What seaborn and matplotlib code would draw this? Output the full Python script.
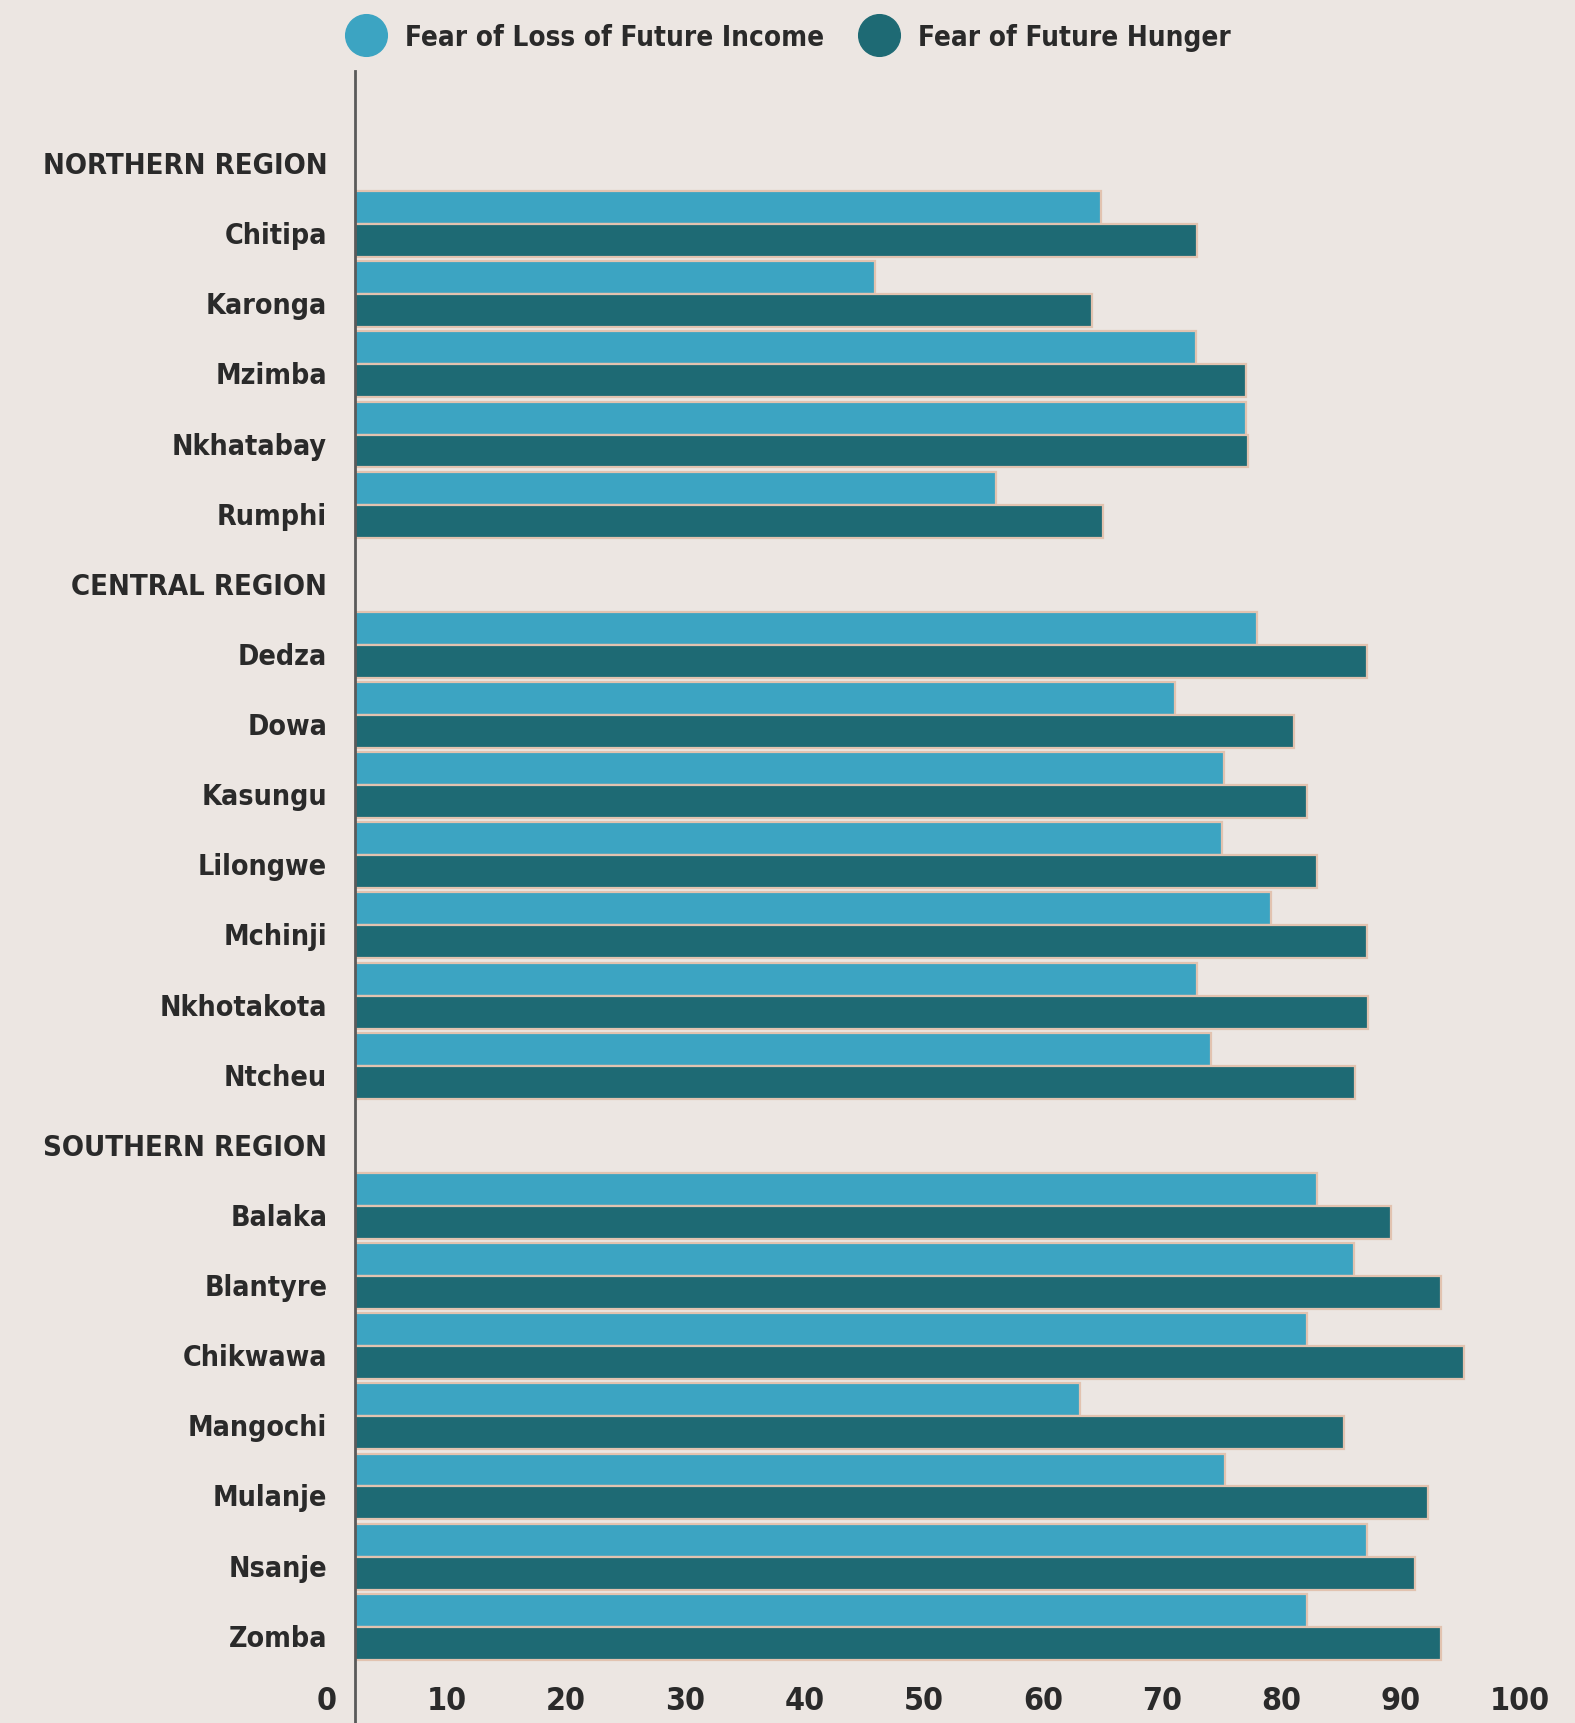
import seaborn as sns
import matplotlib.pyplot as plt
import matplotlib.transforms as mtransforms
from matplotlib.lines import Line2D
from matplotlib import font_manager
import pandas as pd

# Valores (porcentaje)
regiones = {
    "NORTHERN REGION": ["Chitipa", "Karonga", "Mzimba", "Nkhatabay", "Rumphi"],
    "CENTRAL REGION": ["Dedza", "Dowa", "Kasungu", "Lilongwe", "Mchinji", "Nkhotakota", "Ntcheu"],
    "SOUTHERN REGION": ["Balaka", "Blantyre", "Chikwawa", "Mangochi", "Mulanje", "Nsanje", "Zomba"],
}
distritos = ["Chitipa", "Karonga", "Mzimba", "Nkhatabay", "Rumphi",
             "Dedza", "Dowa", "Kasungu", "Lilongwe", "Mchinji", "Nkhotakota", "Ntcheu",
             "Balaka", "Blantyre", "Chikwawa", "Mangochi", "Mulanje", "Nsanje", "Zomba"]
ingreso = [62.5, 43.6, 70.5, 74.7, 53.7,
           75.6, 68.7, 72.8, 72.7, 76.8, 70.6, 71.7,
           80.6, 83.7, 79.8, 60.8, 72.9, 84.8, 79.8]
hambre = [70.6, 61.8, 74.7, 74.8, 62.7,
          84.8, 78.7, 79.8, 80.6, 84.8, 84.9, 83.8,
          86.8, 91.0, 92.9, 82.9, 89.9, 88.8, 91.0]
series = ["Fear of Loss of Future Income", "Fear of Future Hunger"]
colores = ["#3ca4c2", "#1e6a74"]

orden = []
for reg, ds in regiones.items():
    orden.append(reg)
    orden.extend(ds)

df = pd.DataFrame({
    "Distrito": distritos * 2,
    "Valor": ingreso + hambre,
    "Serie": [series[0]] * len(distritos) + [series[1]] * len(distritos),
})

fondo = "#ece6e2"
nombres = {f.name for f in font_manager.fontManager.ttflist}
if "Liberation Sans Narrow" in nombres:
    fuente, ancho = ["Liberation Sans Narrow", "DejaVu Sans"], "normal"
else:
    fuente, ancho = ["DejaVu Sans"], "condensed"

fig = plt.figure(figsize=(15.75, 17.24), dpi=100, facecolor=fondo)
ax = fig.add_axes([0.2254, 0.0302, 0.7576, 0.9283], facecolor=fondo)

sns.barplot(data=df, x="Valor", y="Distrito", hue="Serie", order=orden,
            hue_order=series, palette=colores, saturation=1, orient="h", width=0.94,
            edgecolor="#e2c3b0", linewidth=1.6, legend=False, ax=ax)

ax.set_xlim(0, 100)
ax.set_ylim(21.63, -1.19)
ax.set_xticks(range(0, 101, 10))
ax.set_xlabel("")
ax.set_ylabel("")
for s in ax.spines.values():
    s.set_visible(False)
ax.axvline(0, ymin=-0.035, ymax=1, color="#5a5a5a", lw=2, clip_on=False)
ax.tick_params(axis="both", length=0, colors="#2a2a2a")
ax.tick_params(axis="y", pad=20)
ax.tick_params(axis="x", pad=10)

# etiquetas desplazadas como en el original
dx = mtransforms.ScaledTranslation(-28 / 100, 0, fig.dpi_scale_trans)
for lab in ax.get_xticklabels():
    lab.set_fontfamily(fuente)
    lab.set_fontstretch(ancho)
    lab.set_fontsize(23)
    lab.set_fontweight("bold")
    lab.set_transform(lab.get_transform() + dx)

dy = mtransforms.ScaledTranslation(0, -8 / 100, fig.dpi_scale_trans)
for lab in ax.get_yticklabels():
    lab.set_fontfamily(fuente)
    lab.set_fontstretch(ancho)
    lab.set_fontweight("bold")
    lab.set_transform(lab.get_transform() + dy)
    if lab.get_text() in regiones:
        lab.set_fontsize(21)
    else:
        lab.set_fontsize(20.5)

handles = [Line2D([], [], marker="o", ls="", markersize=30, color=c) for c in colores]
fig.legend(handles, series, loc="center", bbox_to_anchor=(0.498, 0.978), ncol=2,
           frameon=False, handletextpad=0.4, columnspacing=1.0,
           prop={"family": fuente, "size": 20, "weight": "bold", "stretch": ancho},
           labelcolor="#2a2a2a")

fig.savefig("out.png", dpi=100, facecolor=fondo)
